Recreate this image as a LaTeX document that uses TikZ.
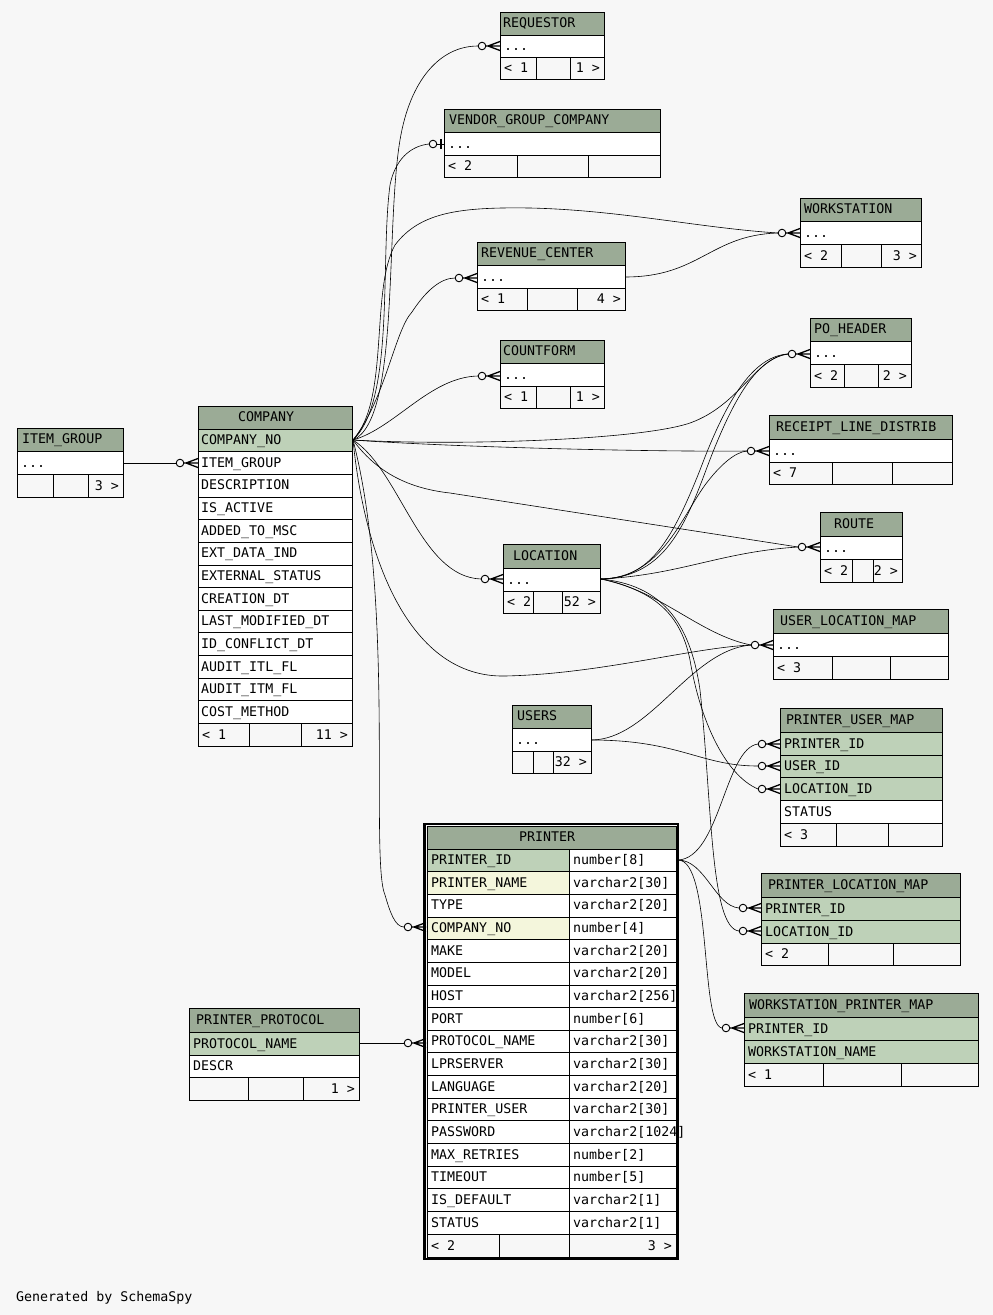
\documentclass[tikz,border=0pt]{standalone}
\usepackage{fontspec}
\newfontfamily\monof{DejaVu Sans Mono}
\definecolor{bgc}{HTML}{F7F7F7}
\definecolor{hdc}{HTML}{9BAB96}
\definecolor{pkc}{HTML}{BED1B8}
\definecolor{ixc}{HTML}{F4F6DC}
\newcounter{nn}
\tikzset{
 txt/.style={font=\monof\fontsize{13.3}{15}\selectfont, inner sep=0pt, anchor=base west},
 txtr/.style={txt, anchor=base east},
 grid/.style={draw=black, line width=0.8pt},
 conn/.style={draw=black, line width=0.6pt},
 crowmk/.pic={\draw[line width=0.9pt] (-18,0) circle[radius=3.8];
   \draw[line width=1.3pt] (-14.2,0) -- (0,0) (-12,0) -- (0,-4.5) (-12,0) -- (0,4.5);},
 teemk/.pic={\draw[line width=0.9pt] (-11,0) circle[radius=3.8];
   \draw[line width=0.8pt] (-7.2,0) -- (0,0); \draw[line width=2.2pt] (-3,-5) -- (-3,5);}
}
\newcommand\tx[4]{\stepcounter{nn}\node[#1] (n\arabic{nn}) at (#2,#3) {#4};}
\newcommand\hd[6]{\fill[hdc] (#1,#3) rectangle (#2,#4); \draw[grid] (#1,#3) rectangle (#2,#4); \tx{txt}{#5}{#4-8}{#6}}
\newcommand\rw[7]{\draw[grid,fill=#1] (#2,#4) rectangle (#3,#5); \tx{txt}{#6}{#5-7}{#7}}
\newcommand\ft[8]{\draw[grid,fill=bgc] (#1,#5) rectangle (#4,#6); \draw[grid] (#2,#5) -- (#2,#6) (#3,#5) -- (#3,#6); \tx{txt}{#1+4}{#6-7}{#7}\tx{txtr}{#4-4}{#6-7}{#8}}
% simple table: x0,x1,y0 (header top), y1 (header bottom), y2 (row bottom), y3 (footer bottom), textx, name, ca, cb, left, right
\newcommand\stbl[9]{\hd{#1}{#2}{#3}{#4}{#7}{#8}\rw{white}{#1}{#2}{#4}{#5}{#1+4}{...}\stblb{#1}{#2}{#5}{#6}#9}
\newcommand\stblb[8]{\ft{#1}{#5}{#6}{#2}{#3}{#4}{#7}{#8}}
\begin{document}
\begin{tikzpicture}[x=1pt,y=-1pt]
\useasboundingbox (0,0) rectangle (993,1315);
\fill[bgc] (0,0) rectangle (993,1315);

% ---------- ports ----------
\coordinate (co) at (353,440);
\coordinate (reqP) at (500,46);   \coordinate (reqIn) at (478,46);
\coordinate (venP) at (444,144);  \coordinate (venIn) at (429,144);
\coordinate (wsP) at (800,233);   \coordinate (wsIn) at (778,233);
\coordinate (rcP) at (477,278);   \coordinate (rcIn) at (455,278);
\coordinate (rcOut) at (625,277);
\coordinate (cfP) at (500,376);   \coordinate (cfIn) at (478,376);
\coordinate (poP) at (810,354);   \coordinate (poIn) at (788,354);
\coordinate (rlP) at (769,451);   \coordinate (rlIn) at (747,451);
\coordinate (rtP) at (820,547);   \coordinate (rtIn) at (798,547);
\coordinate (locP) at (503,579);  \coordinate (locIn) at (481,579);
\coordinate (locOut) at (601,579);
\coordinate (ulP) at (773,645);   \coordinate (ulIn) at (751,645);
\coordinate (usOut) at (591,740);
\coordinate (pupP) at (780,744);  \coordinate (pupIn) at (758,744);
\coordinate (puuP) at (780,766);  \coordinate (puuIn) at (758,766);
\coordinate (pulP) at (780,789);  \coordinate (pulIn) at (758,789);
\coordinate (plpP) at (761,908);  \coordinate (plpIn) at (739,908);
\coordinate (pllP) at (761,931);  \coordinate (pllIn) at (739,931);
\coordinate (wpP) at (744,1028);  \coordinate (wpIn) at (722,1028);
\coordinate (prOut) at (678,860);
\coordinate (prcP) at (426,927);  \coordinate (prcIn) at (404,927);
\coordinate (prpP) at (426,1043); \coordinate (prpIn) at (404,1043);
\coordinate (igOut) at (123,463);
\coordinate (cigP) at (198,463);  \coordinate (cigIn) at (176,463);
\coordinate (ppOut) at (359,1043);

% ---------- connectors ----------
\draw[conn] (co) .. controls (400,420) and (385,230) .. (400,140) .. controls (410,80) and (440,46) .. (reqIn);
\draw[conn] (co) .. controls (395,400) and (380,260) .. (390,185) .. controls (395,160) and (410,146) .. (venIn);
\draw[conn] (co) .. controls (390,400) and (370,290) .. (395,245) .. controls (420,212) and (460,207) .. (530,208) .. controls (620,210) and (700,228) .. (wsIn);
\draw[conn] (rcOut) .. controls (700,277) and (710,235) .. (wsIn);
\draw[conn] (co) .. controls (385,400) and (395,330) .. (412,312) .. controls (425,292) and (440,278) .. (rcIn);
\draw[conn] (co) .. controls (395,428) and (430,377) .. (cfIn);
\draw[conn] (co) .. controls (460,446) and (640,440) .. (690,423) .. controls (740,405) and (755,358) .. (poIn);
\draw[conn] (co) .. controls (450,447) and (650,452) .. (rlIn);
\draw[conn] (co) .. controls (375,470) and (405,488) .. (450,493) -- (rtIn);
\draw[conn] (co) .. controls (400,470) and (420,577) .. (locIn);
\draw[conn] (co) .. controls (365,560) and (410,678) .. (505,676) .. controls (600,674) and (690,648) .. (ulIn);
\draw[conn] (co) .. controls (395,600) and (370,860) .. (385,895) .. controls (390,912) and (395,927) .. (prcIn);
\draw[conn] (locOut) .. controls (650,579) and (672,540) .. (700,470) .. controls (728,395) and (755,356) .. (poIn);
\draw[conn] (locOut) .. controls (660,577) and (682,535) .. (706,470) .. controls (734,395) and (758,358) .. (poIn);
\draw[conn] (locOut) .. controls (660,578) and (680,520) .. (705,485) .. controls (720,465) and (735,452) .. (rlIn);
\draw[conn] (locOut) .. controls (680,575) and (720,552) .. (rtIn);
\draw[conn] (locOut) .. controls (660,590) and (700,635) .. (ulIn);
\draw[conn] (locOut) .. controls (650,590) and (680,610) .. (690,660) .. controls (700,720) and (725,775) .. (pulIn);
\draw[conn] (locOut) .. controls (660,585) and (690,620) .. (700,690) .. controls (712,800) and (710,928) .. (pllIn);
\draw[conn] (usOut) .. controls (650,740) and (690,650) .. (ulIn);
\draw[conn] (usOut) .. controls (680,740) and (700,766) .. (puuIn);
\draw[conn] (prOut) .. controls (720,858) and (725,748) .. (pupIn);
\draw[conn] (prOut) .. controls (705,860) and (715,906) .. (plpIn);
\draw[conn] (prOut) .. controls (712,860) and (700,1025) .. (wpIn);
\draw[conn] (igOut) -- (cigIn);
\draw[conn] (ppOut) -- (prpIn);

% ---------- simple tables ----------
\stbl{500}{604}{12}{35}{57}{79}{503}{REQUESTOR}{{536}{570}{< 1}{1 >}}
\stbl{444}{660}{109}{132}{155}{177}{449}{VENDOR\_GROUP\_COMPANY}{{517}{588}{< 2}{}}
\stbl{800}{921}{198}{221}{244}{267}{804}{WORKSTATION}{{841}{881}{< 2}{3 >}}
\stbl{477}{625}{242}{265}{288}{310}{481}{REVENUE\_CENTER}{{527}{577}{< 1}{4 >}}
\stbl{810}{911}{318}{341}{364}{387}{814}{PO\_HEADER}{{844}{878}{< 2}{2 >}}
\stbl{500}{604}{340}{363}{386}{408}{503}{COUNTFORM}{{536}{570}{< 1}{1 >}}
\stbl{769}{952}{415}{439}{462}{484}{776}{RECEIPT\_LINE\_DISTRIB}{{832}{892}{< 7}{}}
\stbl{820}{902}{512}{536}{559}{582}{834}{ROUTE}{{852}{873}{< 2}{2 >}}
\stbl{773}{948}{609}{633}{656}{679}{780}{USER\_LOCATION\_MAP}{{832}{890}{< 3}{}}
\stbl{503}{600}{544}{568}{591}{613}{513}{LOCATION}{{533}{562}{< 2}{52 >}}
\stbl{512}{591}{705}{728}{751}{773}{517}{USERS}{{533}{553}{}{32 >}}
\stbl{17}{123}{428}{451}{474}{497}{22}{ITEM\_GROUP}{{53}{88}{}{3 >}}

% ---------- PRINTER_USER_MAP ----------
\hd{780}{942}{708}{732}{786}{PRINTER\_USER\_MAP}
\rw{pkc}{780}{942}{732}{755}{784}{PRINTER\_ID}
\rw{pkc}{780}{942}{755}{777}{784}{USER\_ID}
\rw{pkc}{780}{942}{777}{800}{784}{LOCATION\_ID}
\rw{white}{780}{942}{800}{823}{784}{STATUS}
\ft{780}{836}{888}{942}{823}{846}{< 3}{}

% ---------- PRINTER_LOCATION_MAP ----------
\hd{761}{960}{873}{897}{768}{PRINTER\_LOCATION\_MAP}
\rw{pkc}{761}{960}{897}{920}{765}{PRINTER\_ID}
\rw{pkc}{761}{960}{920}{943}{765}{LOCATION\_ID}
\ft{761}{828}{893}{960}{943}{965}{< 2}{}

% ---------- WORKSTATION_PRINTER_MAP ----------
\hd{744}{978}{993}{1017}{749}{WORKSTATION\_PRINTER\_MAP}
\rw{pkc}{744}{978}{1017}{1040}{748}{PRINTER\_ID}
\rw{pkc}{744}{978}{1040}{1063}{748}{WORKSTATION\_NAME}
\ft{744}{823}{901}{978}{1063}{1086}{< 1}{}

% ---------- PRINTER_PROTOCOL ----------
\hd{189}{359}{1008}{1032}{196}{PRINTER\_PROTOCOL}
\rw{pkc}{189}{359}{1032}{1055}{193}{PROTOCOL\_NAME}
\rw{white}{189}{359}{1055}{1077}{193}{DESCR}
\ft{189}{248}{303}{359}{1077}{1100}{}{1 >}

% ---------- COMPANY ----------
\hd{198}{352}{406}{429}{238}{COMPANY}
\foreach [count=\i from 0] \a/\c in {COMPANY\_NO/pkc, ITEM\_GROUP/white, DESCRIPTION/white, IS\_ACTIVE/white, ADDED\_TO\_MSC/white, EXT\_DATA\_IND/white, EXTERNAL\_STATUS/white, CREATION\_DT/white, LAST\_MODIFIED\_DT/white, ID\_CONFLICT\_DT/white, AUDIT\_ITL\_FL/white, AUDIT\_ITM\_FL/white, COST\_METHOD/white}{
  \pgfmathsetmacro\ya{429+22.65*\i}
  \pgfmathsetmacro\yb{\ya+22.65}
  \rw{\c}{198}{352}{\ya}{\yb}{201}{\a}
}
\ft{198}{249}{301}{352}{723.5}{746}{< 1}{11 >}

% ---------- PRINTER ----------
\hd{427}{676}{826}{849}{519}{PRINTER}
\foreach [count=\i from 0] \a/\b/\c in {PRINTER\_ID/{number[8]}/pkc, PRINTER\_NAME/{varchar2[30]}/ixc, TYPE/{varchar2[20]}/white, COMPANY\_NO/{number[4]}/ixc, MAKE/{varchar2[20]}/white, MODEL/{varchar2[20]}/white, HOST/{varchar2[256]}/white, PORT/{number[6]}/white, PROTOCOL\_NAME/{varchar2[30]}/white, LPRSERVER/{varchar2[30]}/white, LANGUAGE/{varchar2[20]}/white, PRINTER\_USER/{varchar2[30]}/white, PASSWORD/{varchar2[1024]}/white, MAX\_RETRIES/{number[2]}/white, TIMEOUT/{number[5]}/white, IS\_DEFAULT/{varchar2[1]}/white, STATUS/{varchar2[1]}/white}{
  \pgfmathsetmacro\ya{849+22.65*\i}
  \pgfmathsetmacro\yb{\ya+22.65}
  \draw[grid,fill=\c] (427,\ya) rectangle (569,\yb);
  \draw[grid,fill=white] (569,\ya) rectangle (676,\yb);
  \tx{txt}{431}{\yb-7}{\a}
  \tx{txt}{573}{\yb-7}{\b}
}
\ft{427}{499}{569}{676}{1234}{1257}{< 2}{3 >}
\draw[line width=2.2pt] (424.5,824) rectangle (678,1259);

% ---------- markers ----------
\foreach \p in {reqP, wsP, rcP, cfP, poP, rlP, rtP, locP, ulP, pupP, puuP, pulP, plpP, pllP, wpP, prcP, prpP, cigP}{
  \pic at (\p) {crowmk};
}
\pic at (venP) {teemk};

\tx{txt}{16}{1301}{Generated by SchemaSpy}
\end{tikzpicture}
\end{document}
